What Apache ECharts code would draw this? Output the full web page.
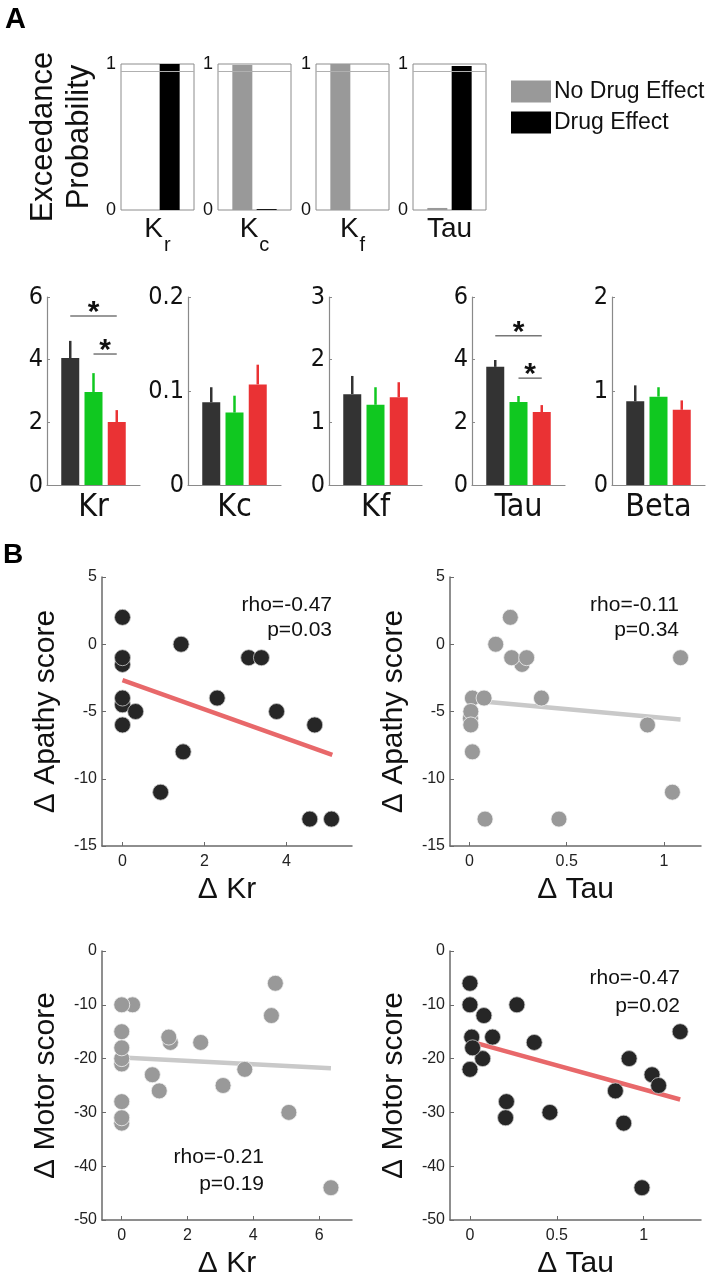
<!DOCTYPE html>
<html><head><meta charset="utf-8">
<script src="https://cdn.jsdelivr.net/npm/echarts@6/dist/echarts.min.js"></script>
<style>html,body{margin:0;padding:0;background:#fff}#c{width:708px;height:1280px}</style>
</head><body><div id="c"></div>
<script>
// ---------- Panel A (top): exceedance probabilities ----------
const expNames = ['K', 'K', 'K', 'Tau'];
const expSubs = ['r', 'c', 'f', ''];
const expNoDrug = [0.0, 0.994, 1.0, 0.014];
const expDrug = [1.0, 0.006, 0.0, 0.986];
const expThreshold = 0.95;
const legendNames = ['No Drug Effect', 'Drug Effect'];

// ---------- Panel A (middle): parameter means ----------
const paramNames = ['Kr', 'Kc', 'Kf', 'Tau', 'Beta'];
const paramMax = [6, 0.2, 3, 6, 2];
const paramStep = [2, 0.1, 1, 2, 1];
const meanBlack = [4.05, 0.088, 1.45, 3.77, 0.89];
const meanGreen = [2.97, 0.077, 1.28, 2.65, 0.94];
const meanRed = [2.01, 0.107, 1.40, 2.33, 0.80];
const errBlack = [0.55, 0.016, 0.29, 0.22, 0.17];
const errGreen = [0.60, 0.018, 0.28, 0.19, 0.10];
const errRed = [0.38, 0.021, 0.24, 0.22, 0.10];
// significance bars: [fromGroup, toGroup, height]
const sigKr = [[1, 3, 5.39], [2, 3, 4.18]];
const sigTau = [[1, 3, 4.76], [2, 3, 3.41]];

// ---------- Panel B: scatter plots ----------
const krApathy = [[0,2],[0,-1.5],[0,-1],[0,-4.5],[0,-4],[0.32,-5],[0,-6],[1.43,0],[1.48,-8],[0.93,-11],[2.31,-4],[3.08,-1],[3.39,-1],[3.76,-5],[4.69,-6],[4.57,-13],[5.1,-13]];
const krApathyFit = [[0,-2.66],[5.12,-8.23]];
const tauApathy = [[0.21,2],[0.135,0],[0.27,-1.5],[0.217,-1],[0.294,-1],[1.085,-1],[0.005,-5.5],[0.015,-4],[0.075,-4],[0.37,-4],[0.007,-5],[0.007,-6],[0.015,-8],[0.08,-13],[0.46,-13],[0.915,-6],[1.043,-11]];
const tauApathyFit = [[0,-4.16],[1.085,-5.6]];
const krMotor = [[0.33,-10],[0,-10],[0,-15],[0,-21],[0,-20],[0,-18],[0,-28],[0,-32],[0,-31],[1.48,-17],[1.43,-16],[0.93,-23],[1.14,-26],[2.4,-17],[3.08,-25],[3.74,-22],[4.55,-12],[4.67,-6],[5.08,-30],[6.36,-44]];
const krMotorFit = [[0,-19.8],[6.36,-21.8]];
const tauMotor = [[0,-6],[0,-10],[0.08,-12],[0.27,-10],[0.13,-16],[0.01,-16],[0.073,-20],[0.015,-18],[0,-22],[0.37,-17],[0.21,-28],[0.205,-31],[0.46,-30],[1.21,-15],[0.916,-20],[1.048,-23],[1.086,-25],[0.837,-26],[0.885,-32],[0.99,-44]];
const tauMotorFit = [[0,-16.8],[1.21,-27.6]];
const scatterXNames = ['Δ Kr', 'Δ Tau', 'Δ Kr', 'Δ Tau'];
const scatterYNames = ['Δ Apathy score', 'Δ Apathy score', 'Δ Motor score', 'Δ Motor score'];
const scatterXTicks = [[0, 2, 4], [0, 0.5, 1], [0, 2, 4, 6], [0, 0.5, 1]];
const scatterStats = [['rho=-0.47', 'p=0.03'], ['rho=-0.11', 'p=0.34'], ['rho=-0.21', 'p=0.19'], ['rho=-0.47', 'p=0.02']];

// ---------- layout & style ----------
const FONT = '"Liberation Sans", Arial, Helvetica, sans-serif';
const NARROW = '"Liberation Sans Narrow", "DejaVu Sans Condensed", "Liberation Sans", Arial, sans-serif';
const groupColors = ['#333333', '#10c820', '#ea3234'];
const darkPt = { color: '#262626', borderColor: '#c8c8c8', borderWidth: 0.8, opacity: 1 };
const grayPt = { color: '#999999', borderColor: '#f2f2f2', borderWidth: 0.8, opacity: 1 };
const redFit = '#e8686a', grayFit = '#c9c9c9';

const chart = echarts.init(document.getElementById('c'), null, { renderer: 'canvas' });
const grid = [], xAxis = [], yAxis = [], series = [], graphic = [];

// Top panel
const topLefts = [121, 218, 316, 413];
for (let i = 0; i < 4; i++) {
  const gi = grid.length;
  grid.push({ left: topLefts[i], top: 64, width: 73, height: 146, show: true, borderColor: '#8c8c8c', borderWidth: 1 });
  const nm = expSubs[i] ? '{k|' + expNames[i] + '}{s|' + expSubs[i] + '}' : '{k|' + expNames[i] + '}';
  xAxis.push({
    gridIndex: gi, type: 'category', data: ['', 'none', 'drug', ''], boundaryGap: false,
    axisLine: { show: false }, axisTick: { show: false }, axisLabel: { show: false }, splitLine: { show: false },
    name: nm, nameLocation: 'middle', nameGap: 5,
    nameTextStyle: { rich: {
      k: { fontSize: 28, lineHeight: 30, verticalAlign: 'top', color: '#111', fontFamily: FONT },
      s: { fontSize: 20, lineHeight: 20, padding: [20, 0, 0, 1], verticalAlign: 'top', color: '#111', fontFamily: FONT }
    } }
  });
  const ya = {
    gridIndex: gi, type: 'value', min: 0, max: 1, interval: 1,
    axisLine: { show: false }, axisTick: { show: false }, splitLine: { show: false },
    axisLabel: { fontSize: 18, color: '#111', margin: 5, fontFamily: FONT }
  };
  if (i === 0) {
    ya.name = 'Exceedance\nProbability';
    ya.nameLocation = 'middle'; ya.nameRotate = 90; ya.nameGap = 24;
    ya.nameTextStyle = { fontSize: 31, lineHeight: 36, color: '#111', fontFamily: FONT };
  }
  yAxis.push(ya);
  series.push({
    name: legendNames[0], type: 'bar', xAxisIndex: gi, yAxisIndex: gi, barWidth: 20, barGap: '-100%',
    data: [null, expNoDrug[i], null, null], itemStyle: { color: '#999999' }, silent: true,
    markLine: { symbol: 'none', silent: true, label: { show: false }, data: [{ yAxis: expThreshold }],
      lineStyle: { color: '#b0b0b0', width: 1, type: 'solid' } }
  });
  series.push({
    name: legendNames[1], type: 'bar', xAxisIndex: gi, yAxisIndex: gi, barWidth: 20, barGap: '-100%',
    data: [null, null, expDrug[i], null], itemStyle: { color: '#000000' }, silent: true
  });
}

// Middle panel
const midLefts = [47, 188, 329, 472, 612];
const sigSets = [sigKr, null, null, sigTau, null];
for (let i = 0; i < 5; i++) {
  const gi = grid.length;
  grid.push({ left: midLefts[i], top: 297, width: 93, height: 188 });
  xAxis.push({
    gridIndex: gi, type: 'category', data: ['', 'a', 'b', 'c', ''], boundaryGap: false,
    axisLine: { show: true, lineStyle: { color: '#8a8a8a', width: 1.2 } }, axisTick: { show: false },
    axisLabel: { show: false }, splitLine: { show: false },
    name: paramNames[i], nameLocation: 'middle', nameGap: 7,
    nameTextStyle: { fontSize: 32, color: '#111', fontFamily: NARROW, verticalAlign: 'top' }
  });
  yAxis.push({
    gridIndex: gi, type: 'value', min: 0, max: paramMax[i], interval: paramStep[i],
    axisLine: { show: true, lineStyle: { color: '#8a8a8a', width: 1.2 } },
    axisTick: { show: true, inside: true, length: 3, lineStyle: { color: '#8a8a8a' } },
    splitLine: { show: false },
    axisLabel: { fontSize: 25, color: '#111', margin: 4, fontFamily: NARROW }
  });
  const means = [meanBlack[i], meanGreen[i], meanRed[i]];
  const errs = [errBlack[i], errGreen[i], errRed[i]];
  series.push({
    type: 'bar', xAxisIndex: gi, yAxisIndex: gi, barWidth: 18, silent: true,
    data: [null].concat(means.map((m, k) => ({ value: m, itemStyle: { color: groupColors[k] } }))).concat([null])
  });
  series.push({
    type: 'custom', xAxisIndex: gi, yAxisIndex: gi, silent: true, z: 3,
    data: means.map((m, k) => [k + 1, m, errs[k], k]),
    renderItem: function (params, api) {
      const x = api.value(0), m = api.value(1), e = api.value(2), c = groupColors[api.value(3)];
      const p0 = api.coord([x, m]), p1 = api.coord([x, m + e]);
      return { type: 'line', shape: { x1: p0[0], y1: p0[1], x2: p1[0], y2: p1[1] },
        style: { stroke: c, lineWidth: 2.5 } };
    }
  });
  if (sigSets[i]) {
    series.push({
      type: 'custom', xAxisIndex: gi, yAxisIndex: gi, silent: true, z: 4,
      data: sigSets[i],
      renderItem: function (params, api) {
        const a = api.coord([api.value(0), api.value(2)]);
        const b = api.coord([api.value(1), api.value(2)]);
        return { type: 'group', children: [
          { type: 'line', shape: { x1: a[0], y1: a[1], x2: b[0], y2: b[1] }, style: { stroke: '#777', lineWidth: 1.5 } },
          { type: 'text', x: (a[0] + b[0]) / 2, y: a[1] + 12, style: { text: '*', fontSize: 30, fontWeight: 'bold', fill: '#111', align: 'center', verticalAlign: 'bottom', fontFamily: FONT } }
        ] };
      }
    });
  }
}

// Scatter panels
const scGrids = [
  { left: 102, top: 577, width: 250, height: 269 },
  { left: 450, top: 577, width: 251, height: 269 },
  { left: 102, top: 951, width: 250, height: 270 },
  { left: 450, top: 951, width: 251, height: 270 }
];
const scX = [[-0.5, 5.6], [-0.1, 1.19], [-0.6, 7], [-0.115, 1.33]];
const scY = [[-15, 5, 5], [-15, 5, 5], [-50, 0, 10], [-50, 0, 10]];
const scData = [krApathy, tauApathy, krMotor, tauMotor];
const scFit = [krApathyFit, tauApathyFit, krMotorFit, tauMotorFit];
const scStyle = [darkPt, grayPt, grayPt, darkPt];
const scFitColor = [redFit, grayFit, grayFit, redFit];
for (let i = 0; i < 4; i++) {
  const gi = grid.length;
  grid.push(scGrids[i]);
  xAxis.push({
    gridIndex: gi, type: 'value', min: scX[i][0], max: scX[i][1],
    axisLine: { show: true, onZero: false, lineStyle: { color: '#6a6a6a', width: 1.5 } },
    axisTick: { show: true, inside: true, length: 4, customValues: scatterXTicks[i], lineStyle: { color: '#6a6a6a' } },
    axisLabel: { customValues: scatterXTicks[i], fontSize: 16, color: '#222', margin: 8, fontFamily: FONT },
    splitLine: { show: false },
    name: scatterXNames[i], nameLocation: 'middle', nameGap: 29,
    nameTextStyle: { fontSize: 30, color: '#111', fontFamily: FONT, verticalAlign: 'top' }
  });
  yAxis.push({
    gridIndex: gi, type: 'value', min: scY[i][0], max: scY[i][1], interval: scY[i][2],
    axisLine: { show: true, onZero: false, lineStyle: { color: '#6a6a6a', width: 1.5 } },
    axisTick: { show: true, inside: true, length: 4, lineStyle: { color: '#6a6a6a' } },
    axisLabel: { fontSize: 16, color: '#222', margin: 5, fontFamily: FONT },
    splitLine: { show: false },
    name: scatterYNames[i], nameLocation: 'middle', nameRotate: 90, nameGap: 41,
    nameTextStyle: { fontSize: 30, color: '#111', fontFamily: FONT }
  });
  series.push({
    type: 'line', xAxisIndex: gi, yAxisIndex: gi, data: scFit[i], showSymbol: false, silent: true, z: 2,
    lineStyle: { color: scFitColor[i], width: 4.5 }
  });
  series.push({
    type: 'scatter', xAxisIndex: gi, yAxisIndex: gi, data: scData[i], symbolSize: 16, silent: true, z: 3,
    itemStyle: scStyle[i]
  });
}

// Stats annotations
const statPos = [[332, 605, 630], [679, 605, 630], [264, 1157, 1184], [680, 978, 1006]];
for (let i = 0; i < 4; i++) {
  graphic.push({ type: 'text', x: statPos[i][0], y: statPos[i][1], style: { text: scatterStats[i][0], fontSize: 21, fill: '#111', align: 'right', verticalAlign: 'middle', fontFamily: FONT } });
  graphic.push({ type: 'text', x: statPos[i][0], y: statPos[i][2], style: { text: scatterStats[i][1], fontSize: 21, fill: '#111', align: 'right', verticalAlign: 'middle', fontFamily: FONT } });
}
graphic.push({ type: 'text', x: 5, y: 5, style: { text: 'A', fontSize: 29, fontWeight: 'bold', fill: '#000', fontFamily: FONT } });
graphic.push({ type: 'text', x: 3, y: 541, style: { text: 'B', fontSize: 28, fontWeight: 'bold', fill: '#000', fontFamily: FONT } });

chart.setOption({
  animation: false,
  backgroundColor: '#ffffff',
  textStyle: { fontFamily: FONT },
  legend: {
    data: legendNames, orient: 'vertical', left: 506, top: 75, itemWidth: 40, itemHeight: 22, itemGap: 8,
    icon: 'rect', selectedMode: false, textStyle: { fontSize: 23, color: '#111', fontFamily: FONT, padding: [0, 0, 0, -2] }
  },
  grid: grid, xAxis: xAxis, yAxis: yAxis, series: series, graphic: graphic
});
</script></body></html>
